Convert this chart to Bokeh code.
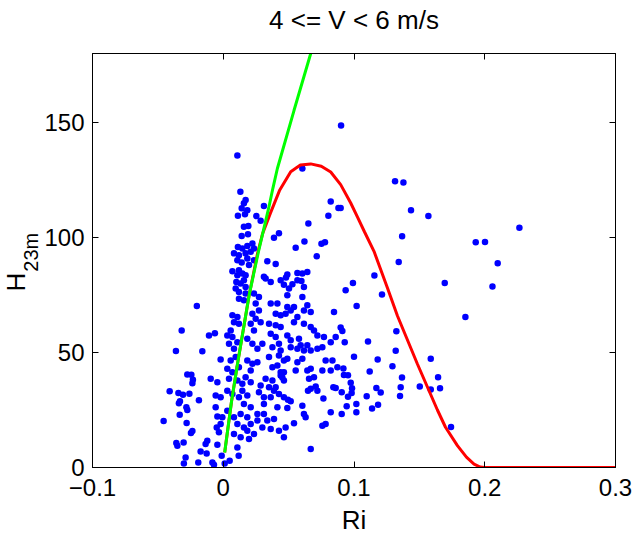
from bokeh.plotting import figure
from bokeh.models import Range1d, FixedTicker, LinearAxis
from bokeh.embed import file_html
from bokeh.resources import INLINE

# ---------------- data ----------------
title_text = "4 <= V < 6 m/s"
x_label = "Ri"
y_label_main = "H"
y_label_sub = "23m"
x_ticks = [-0.1, 0.0, 0.1, 0.2, 0.3]
x_tick_labels = ["\u22120.1", "0", "0.1", "0.2", "0.3"]
y_ticks = [0, 50, 100, 150]
y_tick_labels = ["0", "50", "100", "150"]

# scatter points (Ri, H) grouped by region of the cloud
pts_right = [
    (0.0901, 148.7), (0.1314, 124.5), (0.1378, 123.9), (0.0898, 112.8), (0.1436, 111.9),
    (0.1569, 109.3), (0.2265, 104.2), (0.1368, 100.5), (0.1931, 97.9), (0.2002, 98.0),
    (0.1342, 89.3), (0.2099, 88.8), (0.1156, 83.5), (0.0992, 80.2), (0.1694, 80.2),
    (0.2059, 78.7), (0.0936, 77.1), (0.1214, 75.2), (0.1020, 70.2), (0.1852, 65.4),
    (0.0898, 60.9), (0.0911, 59.3), (0.1324, 59.2), (0.0929, 54.5), (0.1107, 54.8),
    (0.1319, 50.8), (0.1000, 48.1), (0.1587, 47.3), (0.1181, 47.0), (0.1294, 44.0),
    (0.0919, 43.0), (0.0923, 40.2), (0.0954, 40.1), (0.1120, 41.7), (0.1367, 39.1),
    (0.1643, 39.2), (0.0975, 36.8), (0.0985, 34.5), (0.1171, 34.6), (0.1357, 34.9),
    (0.1503, 35.2), (0.1587, 33.9), (0.1658, 34.5), (0.0906, 32.7), (0.0982, 32.4),
    (0.1204, 32.6), (0.0954, 30.8), (0.1097, 31.0), (0.1352, 31.1), (0.0944, 26.6),
    (0.1018, 27.6), (0.1184, 27.3), (0.1138, 25.6), (0.0906, 23.3), (0.1018, 24.0),
    (0.1742, 17.6),
]
pts_upper = [
    (0.0108, 135.6), (0.0605, 130.0), (0.0131, 119.9), (0.0171, 116.3), (0.0158, 114.9),
    (0.0141, 112.7), (0.0184, 111.9), (0.0112, 109.5), (0.0166, 110.1), (0.0253, 109.3),
    (0.0311, 113.7), (0.0286, 107.3), (0.0158, 104.7), (0.0192, 105.0), (0.0141, 100.7),
    (0.0189, 101.4), (0.0426, 101.8), (0.0388, 99.9), (0.0112, 95.9), (0.0146, 95.2),
    (0.0184, 96.3), (0.0223, 97.4), (0.0235, 95.2), (0.0082, 93.1), (0.0120, 92.3),
    (0.0171, 93.1), (0.0210, 93.8), (0.0108, 90.1), (0.0141, 89.1), (0.0184, 90.9),
    (0.0197, 88.0), (0.0235, 90.1), (0.0070, 85.3), (0.0120, 85.8), (0.0146, 84.3),
    (0.0108, 83.6), (0.0171, 83.6), (0.0337, 89.7), (0.0401, 88.5), (0.0311, 82.9),
    (0.0324, 82.2), (0.0100, 80.7), (0.0133, 80.0), (0.0158, 81.4), (0.0095, 77.8),
    (0.0120, 76.3), (0.0171, 78.5), (0.0439, 81.4), (0.0464, 79.5),
    (0.0822, 115.7), (0.0881, 112.8), (0.0804, 109.5), (0.0651, 106.1), (0.0621, 98.3),
    (0.0554, 95.5), (0.0751, 97.3), (0.0778, 97.9), (0.0715, 91.8), (0.0490, 83.9),
    (0.0480, 82.6), (0.0567, 84.6), (0.0605, 84.3), (0.0643, 85.0), (0.0529, 79.7),
    (0.0567, 81.4), (0.0598, 81.1), (0.0617, 78.5), (0.0503, 77.8),
]
pts_middle = [
    (0.0171, 75.6), (0.0120, 73.4), (0.0158, 72.7), (0.0235, 75.6), (0.0273, 74.1),
    (0.0248, 71.3), (0.0273, 68.3), (0.0363, 71.3), (0.0401, 66.9), (0.0070, 66.2),
    (0.0108, 65.4), (0.0120, 62.5), (0.0082, 63.2), (0.0057, 59.6), (0.0223, 66.9),
    (0.0248, 64.7), (0.0210, 62.5), (0.0235, 59.6), (0.0286, 63.2), (0.0350, 62.5),
    (0.0401, 61.8), (0.0439, 61.1), (-0.0109, 57.4), (-0.0064, 58.4), (0.0031, 57.4),
    (0.0070, 56.7), (0.0108, 54.5), (0.0044, 53.8), (0.0082, 51.6), (0.0184, 56.0),
    (0.0223, 53.8), (0.0299, 53.8), (0.0261, 51.6), (0.0363, 58.2), (0.0401, 56.7),
    (0.0426, 53.8), (0.0376, 52.3), (0.0439, 50.9), (-0.0020, 47.0), (0.0057, 46.5),
    (0.0095, 48.0), (0.0184, 46.5), (0.0223, 45.1), (0.0261, 45.8), (0.0210, 42.2),
    (0.0350, 48.0), (0.0376, 43.6), (0.0414, 44.3), (0.0464, 46.5), (0.0439, 41.4),
    (0.0031, 42.9), (0.0070, 41.4), (0.0120, 43.6), (0.0044, 38.6), (0.0108, 37.8),
    (0.0146, 36.4), (0.0171, 39.2), (-0.0096, 38.6), (-0.0045, 37.1), (0.0210, 37.1),
    (0.0286, 35.6), (0.0324, 38.6), (0.0376, 37.8), (0.0439, 40.0), (0.0464, 41.4),
    (0.0031, 33.4), (0.0070, 32.0), (0.0146, 33.4), (0.0184, 31.3), (0.0120, 30.5),
    (-0.0058, 31.3), (-0.0020, 30.5), (0.0273, 32.7), (0.0311, 30.5), (0.0388, 33.4),
    (0.0363, 30.5),
]
pts_left_low = [
    (-0.0202, 70.2), (-0.0318, 59.6), (-0.0362, 50.6), (-0.0160, 50.5), (-0.0275, 40.4),
    (-0.0244, 40.3), (-0.0232, 38.2), (-0.0236, 36.6), (-0.0410, 33.1), (-0.0343, 32.4),
    (-0.0308, 31.6), (-0.0259, 32.1), (-0.0331, 28.8), (-0.0339, 27.9), (-0.0186, 29.2),
    (-0.0282, 26.2), (-0.0275, 25.0), (-0.0333, 22.9), (-0.0456, 20.2), (-0.0280, 19.4),
    (-0.0236, 15.9), (-0.0247, 15.0), (-0.0359, 10.6), (-0.0351, 9.5), (-0.0303, 10.9),
    (-0.0122, 11.6), (-0.0135, 10.2), (-0.0173, 7.0), (-0.0127, 6.1), (-0.0288, 4.4),
    (-0.0301, 1.7), (-0.0191, 2.2), (-0.0083, 2.2), (-0.0071, 1.2), (0.0011, 1.7),
    (0.0049, 2.9), (0.0118, 5.1), (0.0108, 8.7), (-0.0045, 9.9), (-0.0012, 5.1),
    (-0.0050, 17.4), (-0.0020, 18.9), (-0.0033, 15.3), (-0.0045, 22.2), (-0.0007, 21.8),
    (-0.0058, 26.2), (0.0031, 24.7),
    (0.0158, 27.6), (0.0210, 26.2), (0.0133, 23.3), (0.0184, 21.8), (0.0082, 21.8),
    (0.0108, 18.9), (0.0158, 17.4), (0.0210, 18.9), (0.0261, 23.3), (0.0261, 20.4),
    (0.0082, 14.6), (0.0133, 13.1), (0.0184, 16.0), (0.0235, 14.6), (0.0197, 12.4),
    (0.0311, 27.6), (0.0311, 23.3), (0.0337, 20.4), (0.0363, 16.7), (0.0299, 17.4),
    (0.0414, 26.2), (0.0426, 16.0), (0.0464, 13.1), (0.0388, 21.1), (0.0477, 17.4),
    (0.0541, 19.2), (0.0495, 29.5), (0.0516, 28.8), (0.0490, 25.9), (0.0605, 26.9),
    (0.0617, 23.3), (0.0630, 21.8), (0.0669, 8.0), (0.0758, 18.2), (0.0783, 18.9),
    (0.0822, 24.0), (0.0766, 30.0), (0.0720, 33.4), (0.0707, 35.2), (0.0842, 34.9),
    (0.0860, 34.6), (0.0648, 33.4), (0.0669, 34.2),
]
pts_mid_right = [
    (0.0822, 42.2), (0.0873, 43.6), (0.0758, 42.2), (0.0669, 42.9), (0.0694, 39.2),
    (0.0656, 38.6), (0.0835, 46.5), (0.0783, 46.5), (0.0605, 47.3), (0.0567, 45.8),
    (0.0643, 42.2), (0.0554, 42.2), (0.0490, 47.3), (0.0426, 48.7), (0.0452, 39.1),
    (0.0464, 37.8), (0.0350, 34.9), (0.0401, 34.9), (0.0426, 32.0), (0.0464, 30.5),
    (0.0516, 52.3), (0.0567, 51.6), (0.0617, 50.9), (0.0669, 50.9), (0.0720, 51.6),
    (0.0758, 52.3), (0.0617, 62.5), (0.0669, 61.1), (0.0694, 59.6), (0.0720, 57.4),
    (0.0770, 56.7), (0.0822, 54.5), (0.0860, 56.7), (0.0579, 56.0), (0.0592, 53.1),
    (0.0643, 53.1), (0.0490, 57.4), (0.0516, 55.3), (0.0567, 65.4), (0.0541, 63.2),
    (0.0516, 68.3), (0.0477, 66.9), (0.0439, 66.2), (0.0414, 71.3), (0.0490, 69.8),
    (0.0541, 69.8), (0.0617, 68.3), (0.0669, 67.6), (0.0643, 70.5), (0.0490, 74.9),
    (0.0605, 74.1), (0.0363, 80.6), (0.0847, 67.6),
]

# green curve (Ri, H)
green_ri = [0.0011, 0.0064, 0.0113, 0.0200, 0.0268, 0.0350, 0.0380, 0.0414, 0.0541, 0.0669]
green_h = [6.5, 29.0, 46.4, 75.5, 93.5, 113.4, 121.5, 130.0, 155.2, 180.0]

# red curve (Ri, H)
red_ri = [0.0011, 0.0064, 0.0113, 0.0200, 0.0262, 0.0300, 0.0360, 0.0430, 0.0516,
          0.0590, 0.0669, 0.0750, 0.0822, 0.0898, 0.0975, 0.1026, 0.1080, 0.1153,
          0.1256, 0.1332, 0.1485, 0.1638, 0.1700, 0.1791, 0.1860, 0.1918, 0.1965,
          0.2000, 0.3000]
red_h = [6.5, 29.0, 46.4, 75.5, 93.0, 101.5, 110.5, 120.4, 128.6,
         131.5, 132.0, 131.0, 128.5, 123.0, 115.0, 109.0, 102.5, 94.0,
         78.0, 66.0, 45.0, 25.0, 17.5, 9.5, 4.5, 1.5, 0.2,
         0.0, 0.0]

# ---------------- plotting ----------------
all_pts = pts_right + pts_upper + pts_middle + pts_left_low + pts_mid_right
ri = [q[0] for q in all_pts]
h = [q[1] for q in all_pts]

FONT = "Liberation Sans"
NBSP = "\u00a0"

# the left stack (tick labels + subscript + H) needs ~100 px; shift the canvas
# 8 px to the left so that the frame starts at x = 92 in the window
p = figure(width=646, height=538, output_backend="svg", toolbar_location=None,
           x_range=Range1d(-0.1, 0.3), y_range=Range1d(0, 180),
           min_border_left=100, min_border_right=23, min_border_top=53,
           min_border_bottom=71, background_fill_color="white",
           border_fill_color="white", title=None, margin=(0, 0, 0, -8))
p.grid.visible = False
p.outline_line_color = "black"
p.outline_line_width = 1

xax = p.xaxis[0]
yax = p.yaxis[0]
xax.ticker = FixedTicker(ticks=x_ticks)
yax.ticker = FixedTicker(ticks=y_ticks)
xax.major_label_overrides = {t: s for t, s in zip(x_ticks, x_tick_labels)}
yax.major_label_overrides = {t: s for t, s in zip(y_ticks, y_tick_labels)}
xax.axis_label = x_label
# subscript part of the y label sits right next to the tick labels
yax.axis_label = NBSP * 3 + y_label_sub
for ax in (xax, yax):
    ax.major_tick_in = 6
    ax.major_tick_out = 0
    ax.minor_tick_line_color = None
    ax.axis_line_color = "black"
    ax.major_tick_line_color = "black"
    ax.major_label_text_font = FONT
    ax.major_label_text_font_size = "24px"
    ax.major_label_text_color = "black"
    ax.axis_label_text_font = FONT
    ax.axis_label_text_font_style = "normal"
    ax.axis_label_text_color = "black"
xax.axis_label_text_font_size = "26px"
yax.axis_label_text_font_size = "20px"
xax.major_label_standoff = 11
xax.axis_label_standoff = 6
yax.major_label_standoff = 8
yax.axis_label_standoff = -1

# outer left axis only carries the main "H" of the y label
hax = LinearAxis(ticker=FixedTicker(ticks=[]), axis_label=y_label_main + NBSP * 6)
hax.axis_line_color = None
hax.major_tick_line_color = None
hax.minor_tick_line_color = None
hax.major_tick_in = 0
hax.major_tick_out = 0
hax.major_label_text_font_size = "0px"
hax.major_label_standoff = 0
hax.axis_label_standoff = -13
hax.axis_label_text_font = FONT
hax.axis_label_text_font_size = "26px"
hax.axis_label_text_font_style = "normal"
hax.axis_label_text_color = "black"
p.add_layout(hax, "left")

# box axes on top (carrying the title as its label) and on the right
for loc, tk in (("above", x_ticks), ("right", y_ticks)):
    ax2 = LinearAxis(ticker=FixedTicker(ticks=tk))
    ax2.major_tick_in = 6
    ax2.major_tick_out = 0
    ax2.minor_tick_line_color = None
    ax2.major_label_text_font_size = "0px"
    ax2.major_label_standoff = 0
    ax2.major_label_overrides = {t: "" for t in tk}
    if loc == "above":
        ax2.axis_label = title_text
        ax2.axis_label_standoff = 19
        ax2.axis_label_text_font = FONT
        ax2.axis_label_text_font_size = "26px"
        ax2.axis_label_text_font_style = "normal"
        ax2.axis_label_text_color = "black"
    p.add_layout(ax2, loc)

p.scatter(ri, h, marker="circle", size=6.5, fill_color="#0000ff", line_color=None)
p.line(red_ri, red_h, line_color="#ff0000", line_width=3)
p.line(green_ri, green_h, line_color="#00ff00", line_width=3)

open("out.html", "w").write(file_html(p, INLINE))
